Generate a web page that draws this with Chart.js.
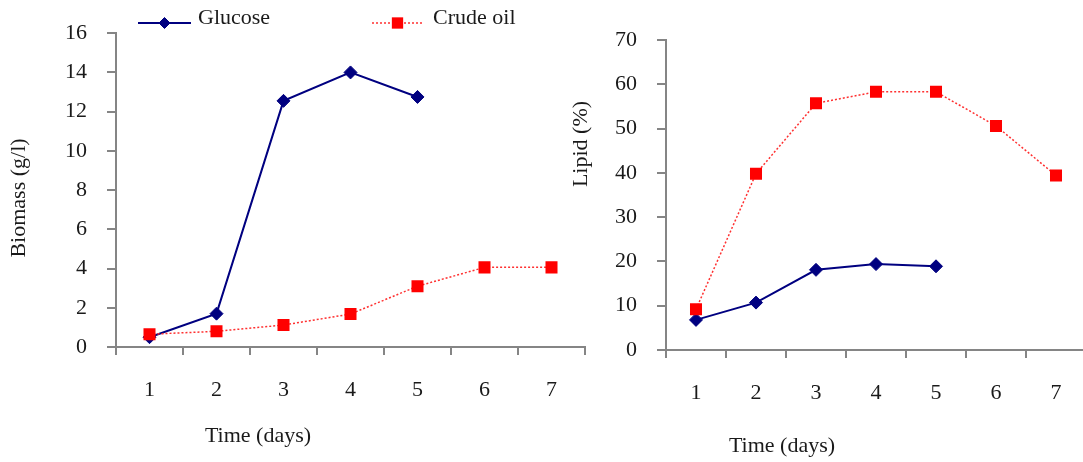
<!DOCTYPE html>
<html>
<head>
<meta charset="utf-8">
<script src="https://cdn.jsdelivr.net/npm/chart.js@4.4.1/dist/chart.umd.min.js"></script>
<style>
  html, body { margin: 0; padding: 0; background: #fff; overflow: hidden; }
  body { width: 1083px; height: 462px; position: relative; }
  canvas { position: absolute; top: 0; }
</style>
</head>
<body>
<canvas id="chartBiomass" width="600" height="462" style="left:0px;width:600px;height:462px"></canvas>
<canvas id="chartLipid" width="540" height="462" style="left:560px;width:540px;height:462px"></canvas>
<script>
// ── data ────────────────────────────────────────────────────
const days = ['1', '2', '3', '4', '5', '6', '7'];
const biomassGlucose = [0.5, 1.7, 12.55, 14.0, 12.75];
const biomassCrude = [0.65, 0.8, 1.12, 1.68, 3.1, 4.06, 4.06];
const lipidGlucose = [6.8, 10.7, 18.1, 19.4, 18.9];
const lipidCrude = [9.2, 39.8, 55.7, 58.3, 58.3, 50.6, 39.4];
const biomassRange = { min: 0, max: 16, step: 2 };
const lipidRange = { min: 0, max: 70, step: 10 };

// ── style ───────────────────────────────────────────────────
const AXIS = '#858585';
const TEXT = '#1a1a1a';
const NAVY = '#000080';
const RED = '#ff0000';
const FAMILY = "'Liberation Serif', 'Times New Roman', serif";
const FONT = { family: FAMILY, size: 22 };

function glucoseSet(data) {
  return {
    label: 'Glucose', data, order: 1,
    borderColor: NAVY, backgroundColor: NAVY, borderWidth: 2, tension: 0,
    pointStyle: 'rectRot', pointRadius: 6.5, pointBorderWidth: 1, pointBorderColor: NAVY,
  };
}

function crudeSet(data) {
  return {
    label: 'Crude oil', data, order: 0,
    borderColor: '#ff3030', borderDash: [2, 2], borderWidth: 1.5, tension: 0,
    pointStyle: 'rect', pointRadius: 8.5, pointBackgroundColor: RED, pointBorderWidth: 0,
  };
}

// axis titles + legend (line sample with marker, like the original)
const figureText = {
  id: 'figureText',
  afterDraw(chart, args, opts) {
    const ctx = chart.ctx;
    ctx.save();
    ctx.font = `22px ${FAMILY}`;
    ctx.fillStyle = TEXT;
    ctx.textBaseline = 'middle';
    (opts.texts || []).forEach(t => {
      ctx.save();
      ctx.translate(t.x, t.y);
      if (t.rotate) ctx.rotate(t.rotate);
      ctx.textAlign = 'center';
      ctx.fillText(t.text, 0, 0);
      ctx.restore();
    });
    (opts.legend || []).forEach(item => {
      const ds = chart.data.datasets[item.dataset];
      ctx.save();
      ctx.strokeStyle = ds.borderColor;
      ctx.lineWidth = ds.borderWidth;
      ctx.setLineDash(ds.borderDash || []);
      ctx.beginPath();
      ctx.moveTo(item.x, item.y);
      ctx.lineTo(item.x + item.len, item.y);
      ctx.stroke();
      ctx.setLineDash([]);
      ctx.fillStyle = ds.pointBackgroundColor || ds.backgroundColor;
      ctx.strokeStyle = ds.pointBorderColor || ds.borderColor;
      ctx.lineWidth = ds.pointBorderWidth;
      Chart.helpers.drawPoint(ctx, {
        pointStyle: ds.pointStyle, radius: item.radius, rotation: 0, borderWidth: ds.pointBorderWidth,
      }, item.x + item.len / 2, item.y);
      ctx.restore();
      ctx.textAlign = 'left';
      ctx.fillText(ds.label, item.textX, item.textY);
    });
    ctx.restore();
  },
};

function makeChart(id, series, range, box, extras) {
  return new Chart(document.getElementById(id), {
    type: 'line',
    data: { labels: days, datasets: series },
    plugins: [figureText],
    options: {
      responsive: false,
      animation: false,
      layout: { padding: { left: 0, top: box.top, right: box.right, bottom: 0 } },
      plugins: { legend: { display: false }, tooltip: { enabled: false }, figureText: extras },
      scales: {
        x: {
          type: 'category', offset: true,
          grid: { offset: true, drawOnChartArea: false, tickLength: 8, color: AXIS, lineWidth: 2 },
          border: { color: AXIS, width: 2 },
          ticks: { padding: 22, color: TEXT, font: FONT },
          afterFit: s => { s.height = box.xHeight; },
        },
        y: {
          min: range.min, max: range.max,
          grid: { drawOnChartArea: false, tickLength: 9, color: AXIS, lineWidth: 2 },
          border: { color: AXIS, width: 2 },
          ticks: { stepSize: range.step, padding: 20, color: TEXT, font: FONT },
          afterFit: s => { s.width = box.yWidth; },
        },
      },
    },
  });
}

// ── 1. Biomass ──────────────────────────────────────────────
makeChart('chartBiomass',
  [glucoseSet(biomassGlucose), crudeSet(biomassCrude)],
  biomassRange,
  { top: 28, right: 15, xHeight: 115, yWidth: 116 },
  {
    texts: [
      { text: 'Time (days)', x: 258, y: 436 },
      { text: 'Biomass (g/l)', x: 19, y: 198, rotate: -Math.PI / 2 },
    ],
    legend: [
      { dataset: 0, x: 138, y: 23, len: 53, radius: 5.5, textX: 198, textY: 18 },
      { dataset: 1, x: 372, y: 23, len: 51, radius: 8, textX: 433, textY: 18 },
    ],
  });

// ── 2. Lipid ────────────────────────────────────────────────
makeChart('chartLipid',
  [glucoseSet(lipidGlucose), crudeSet(lipidCrude)],
  lipidRange,
  { top: 40, right: 14, xHeight: 112, yWidth: 106 },
  {
    texts: [
      { text: 'Time (days)', x: 222, y: 446 },
      { text: 'Lipid (%)', x: 21, y: 144, rotate: -Math.PI / 2 },
    ],
  });
</script>
</body>
</html>
